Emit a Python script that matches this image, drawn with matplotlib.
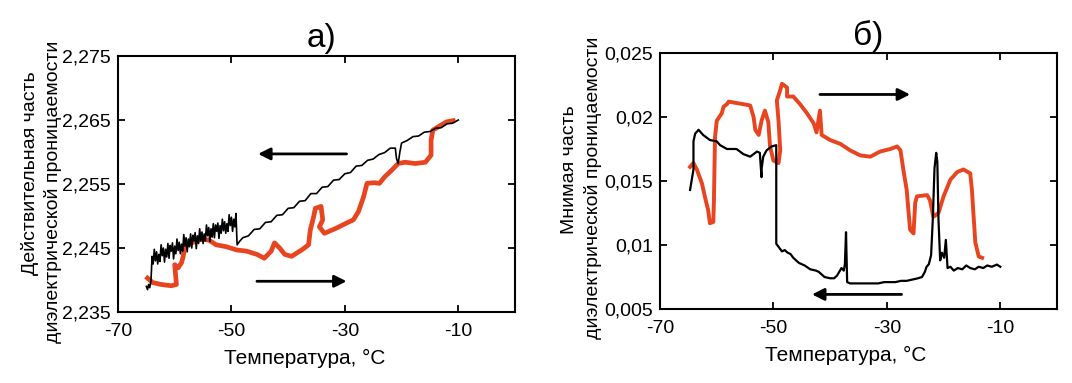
import matplotlib
matplotlib.use("Agg")
import matplotlib.pyplot as plt

plt.rcParams['font.family'] = ['Liberation Sans', 'DejaVu Sans']

RED = '#e8441f'

# ---- panel a): real part, cooling (black) and heating (red) ----
t_cool_a = [-10, -11, -12, -13, -14, -15, -16, -17, -18, -19, -20, -20.3, -20.6, -20.9, -21.1,
            -22, -23, -24, -25, -26, -27, -28, -29, -30, -31, -32, -33, -34, -35, -36, -37, -38,
            -39, -40, -41, -42, -43, -44, -45, -46, -47, -48, -48.6, -49.0,
            -49.2, -49.4, -49.6, -49.8, -50.0, -50.2, -50.4, -50.6, -50.8, -51.0, -51.2, -51.4,
            -51.6, -51.8, -52.0, -52.2, -52.4, -52.6, -52.8, -53.0, -53.2, -53.4, -53.6, -53.8,
            -54.0, -54.2, -54.4, -54.6, -54.8, -55.0, -55.2, -55.4, -55.6, -55.8, -56.0, -56.2,
            -56.4, -56.6, -56.8, -57.0, -57.2, -57.4, -57.6, -57.8, -58.0, -58.2, -58.4, -58.6,
            -58.8, -59.0, -59.2, -59.4, -59.6, -59.8, -60.0, -60.2, -60.4, -60.6, -60.8, -61.0,
            -61.2, -61.4, -61.6, -61.8, -62.0, -62.2, -62.4, -62.6, -62.8, -63.0, -63.2, -63.4,
            -63.6, -63.8, -64.0, -64.1, -64.2, -64.4, -64.6, -64.8, -65.0]
e_cool_a = [2.2650, 2.2645, 2.2644, 2.2638, 2.2637, 2.2632, 2.2631, 2.2625, 2.2624, 2.2618, 2.2614,
            2.2600, 2.2582, 2.2590, 2.2606,
            2.2606, 2.2599, 2.2596, 2.2589, 2.2587, 2.2579, 2.2578, 2.2568, 2.2566, 2.2557, 2.2556,
            2.2546, 2.2545, 2.2535, 2.2535, 2.2524, 2.2523, 2.2513, 2.2512, 2.2502, 2.2501, 2.2491,
            2.2490, 2.2480, 2.2479, 2.2469, 2.2466, 2.2460, 2.2455,
            2.2504, 2.2483, 2.2495, 2.2476, 2.2498, 2.2485, 2.2502, 2.2476, 2.2488, 2.2473, 2.2491,
            2.2477, 2.2495, 2.2473, 2.2485, 2.2465, 2.2489, 2.2476, 2.2486, 2.2466, 2.2488, 2.2467,
            2.2480, 2.2460, 2.2482, 2.2469, 2.2486, 2.2461, 2.2472, 2.2457, 2.2475, 2.2461, 2.2480,
            2.2457, 2.2469, 2.2449, 2.2474, 2.2461, 2.2470, 2.2450, 2.2472, 2.2452, 2.2464, 2.2444,
            2.2466, 2.2453, 2.2471, 2.2445, 2.2456, 2.2441, 2.2459, 2.2446, 2.2464, 2.2441, 2.2453,
            2.2433, 2.2458, 2.2445, 2.2454, 2.2434, 2.2457, 2.2436, 2.2448, 2.2428, 2.2450, 2.2438,
            2.2455, 2.2429, 2.2440, 2.2425, 2.2444, 2.2430, 2.2448, 2.2425, 2.2437,
            2.2415, 2.2398, 2.2388, 2.2393, 2.2385, 2.2390]

t_heat_a = [-64.8, -63.9, -62.4, -60.6, -59.7, -60.0, -59.4, -58.8, -58.5, -58.2, -57.3, -55.2,
            -53.9, -52.7, -50.9, -49.1, -47.3, -45.5, -44.2, -43.0, -42.4, -41.5, -40.6, -39.4,
            -37.6, -36.4, -36.1, -35.5, -35.2, -34.2, -33.9, -34.5, -33.6, -31.5, -29.7, -28.5,
            -27.6, -26.7, -26.1, -24.8, -23.9, -23.0, -21.8, -20.6, -19.4, -17.6, -15.8, -14.8,
            -14.8, -14.5, -13.6, -12.1, -10.9]
e_heat_a = [2.2403, 2.2396, 2.2393, 2.2391, 2.2393, 2.2424, 2.2419, 2.2427, 2.2437, 2.2452, 2.2457,
            2.2464, 2.2462, 2.2455, 2.2452, 2.2447, 2.2445, 2.2440, 2.2434, 2.2445, 2.2458, 2.2450,
            2.2440, 2.2437, 2.2447, 2.2455, 2.2478, 2.2499, 2.2512, 2.2515, 2.2494, 2.2483, 2.2473,
            2.2481, 2.2489, 2.2494, 2.2507, 2.2530, 2.2551, 2.2552, 2.2551, 2.2561, 2.2571, 2.2582,
            2.2584, 2.2582, 2.2584, 2.2595, 2.2618, 2.2634, 2.2639, 2.2647, 2.2649]

# ---- panel б): imaginary part ----
t_cool_b = [-10, -10.6, -11.5, -12.3, -13.0, -13.8, -14.5, -15.3, -16.0, -16.7, -17.5, -18.2,
            -18.8, -19.3, -19.6, -19.9, -20.3, -20.6, -20.9, -21.1, -21.3, -21.6, -21.9, -22.2,
            -22.6, -23.0, -23.3, -23.8, -24.5, -25.5, -26.5, -27.5, -28.5, -29.5, -30.5, -31.5,
            -32.5, -33.5, -34.5, -35.5, -36.5, -37.0, -37.1, -37.2, -37.4, -37.6, -38.0, -38.4,
            -38.8, -39.3, -40.0, -41.0, -41.5, -42.0, -42.5, -43.5, -44.5, -45.5, -46.5, -47.0,
            -47.5, -48.0, -48.5, -49.0, -49.5, -49.5, -50.3, -51.2, -51.8, -52.1, -52.1, -52.4,
            -52.9, -54.1, -55.3, -56.5, -58.2, -59.4, -60.0, -61.2, -62.4, -63.2, -63.8, -64.1,
            -64.1, -64.1, -64.4, -64.7]
e_cool_b = [0.0083, 0.00847, 0.0083, 0.0084, 0.0082, 0.0083, 0.0081, 0.0082, 0.0084, 0.0081, 0.0082,
            0.0080, 0.0083, 0.0082, 0.0104, 0.0090, 0.0094, 0.0088, 0.0120, 0.0165, 0.0172, 0.0160,
            0.0120, 0.0092, 0.0085, 0.0083, 0.0079, 0.0075, 0.0074, 0.0073, 0.0072, 0.0072, 0.0071,
            0.0071, 0.0071, 0.0070, 0.0070, 0.0070, 0.0070, 0.0070, 0.0070, 0.0071, 0.0090, 0.0110,
            0.0085, 0.0080, 0.0082, 0.0079, 0.0076, 0.0074, 0.0074, 0.0075, 0.0077, 0.0079, 0.0080,
            0.0081, 0.0084, 0.0086, 0.0090, 0.0093, 0.0094, 0.0096, 0.0095, 0.0098, 0.0101, 0.0178,
            0.0177, 0.0174, 0.0169, 0.0159, 0.0153, 0.0172, 0.0173, 0.0169, 0.0171, 0.0175, 0.0175,
            0.0178, 0.0181, 0.0182, 0.0186, 0.0190, 0.0187, 0.0181, 0.0172, 0.0159, 0.0151, 0.0143]

t_heat_b = [-64.7, -64.1, -63.5, -62.6, -62.1, -61.5, -61.2, -60.6, -60.5, -60.4, -60.3, -60.0,
            -59.1, -58.8, -58.2, -57.9, -55.3, -54.1, -53.5, -53.2, -52.6, -52.1, -51.5, -50.9,
            -50.6, -50.0, -49.1, -48.8, -49.1, -49.4, -48.8, -48.5, -47.6, -47.6, -46.5, -45.3,
            -44.1, -42.9, -42.4, -41.8, -41.5, -40.0, -38.2, -36.5, -34.7, -32.9, -31.2, -29.4,
            -28.2, -27.6, -27.1, -26.5, -26.2, -25.9, -25.3, -25.0, -24.7, -22.9, -22.4, -21.8,
            -20.9, -20.0, -18.8, -17.6, -16.5, -15.3, -15.0, -14.7, -14.4, -13.8, -13.2]
e_heat_b = [0.0161, 0.0164, 0.0159, 0.0148, 0.0138, 0.0127, 0.0117, 0.0118, 0.0133, 0.0159, 0.0184,
            0.0197, 0.0203, 0.0208, 0.0210, 0.0212, 0.0210, 0.0209, 0.0200, 0.0190, 0.0186, 0.0197,
            0.0205, 0.0196, 0.0177, 0.0166, 0.0164, 0.0174, 0.0197, 0.0213, 0.0221, 0.0226, 0.0223,
            0.0216, 0.0216, 0.0210, 0.0203, 0.0195, 0.0188, 0.0205, 0.0186, 0.0182, 0.0179, 0.0174,
            0.0170, 0.0169, 0.0173, 0.0175, 0.0177, 0.0174, 0.0159, 0.0143, 0.0127, 0.0112, 0.0109,
            0.0133, 0.0138, 0.0139, 0.0135, 0.0122, 0.0125, 0.0138, 0.0151, 0.0157, 0.0159, 0.0156,
            0.0143, 0.0122, 0.0102, 0.0091, 0.0090]

# arrows: (start T, end T, level)
arrows_a = [(-29.7, -45.3, 2.2597), (-45.5, -29.7, 2.2398)]
arrows_b = [(-41.8, -25.9, 0.02176), (-27.4, -43.2, 0.00614)]

xticks = [-70, -50, -30, -10]
xtick_labels = ['-70', '-50', '-30', '-10']
yticks_a = [2.235, 2.245, 2.255, 2.265, 2.275]
ytick_labels_a = ['2,235', '2,245', '2,255', '2,265', '2,275']
yticks_b = [0.005, 0.01, 0.015, 0.02, 0.025]
ytick_labels_b = ['0,005', '0,01', '0,015', '0,02', '0,025']

W, H = 1072, 383
fig = plt.figure(figsize=(W / 100, H / 100), dpi=100)
ax1 = fig.add_axes([118 / W, 1 - 312 / H, 397 / W, 256 / H])
ax2 = fig.add_axes([660 / W, 1 - 309 / H, 397 / W, 256 / H])

def style(ax, yticks, ylabels, ylim):
    ax.set_xlim(-70, 0)
    ax.set_ylim(*ylim)
    ax.set_xticks(xticks)
    ax.set_xticklabels(xtick_labels)
    ax.set_yticks(yticks)
    ax.set_yticklabels(ylabels)
    ax.tick_params(direction='in', top=True, right=True, length=5, width=1.3,
                   labelsize=14, color='black')
    ax.tick_params(axis='x', pad=8)
    ax.tick_params(axis='y', pad=5)
    for s in ax.spines.values():
        s.set_linewidth(1.5)

ax1.plot(t_cool_a, e_cool_a, color='black', lw=1.2, zorder=3)
ax1.plot(t_heat_a, e_heat_a, color=RED, lw=3.4, zorder=2)
style(ax1, yticks_a, ytick_labels_a, (2.235, 2.275))

ax2.plot(t_cool_b, e_cool_b, color='black', lw=1.6, zorder=3)
ax2.plot(t_heat_b, e_heat_b, color=RED, lw=2.8, zorder=2)
style(ax2, yticks_b, ytick_labels_b, (0.005, 0.025))

for ax, arrs in ((ax1, arrows_a), (ax2, arrows_b)):
    for x0, x1, yv in arrs:
        ax.annotate('', xy=(x1, yv), xytext=(x0, yv),
                    arrowprops=dict(arrowstyle='-|>', color='black', lw=2.0,
                                    mutation_scale=18, shrinkA=0, shrinkB=0))

fig.text(322 / W, 1 - 38 / H, 'а)', ha='center', va='center', fontsize=24)
fig.text(868 / W, 1 - 36 / H, 'б)', ha='center', va='center', fontsize=24)

fig.text(305 / W, 1 - 358 / H, 'Температура, °C', ha='center', va='center', fontsize=15)
fig.text(846 / W, 1 - 355 / H, 'Температура, °C', ha='center', va='center', fontsize=15)

fig.text(30 / W, 1 - 173 / H, 'Действительная часть', rotation=90,
         ha='center', va='center', fontsize=14)
fig.text(53 / W, 1 - 192 / H, 'диэлектрической проницаемости', rotation=90,
         ha='center', va='center', fontsize=14)
fig.text(570 / W, 1 - 170 / H, 'Мнимая часть', rotation=90,
         ha='center', va='center', fontsize=14)
fig.text(593 / W, 1 - 188 / H, 'диэлектрической проницаемости', rotation=90,
         ha='center', va='center', fontsize=14)

fig.savefig('out.png', dpi=100)
